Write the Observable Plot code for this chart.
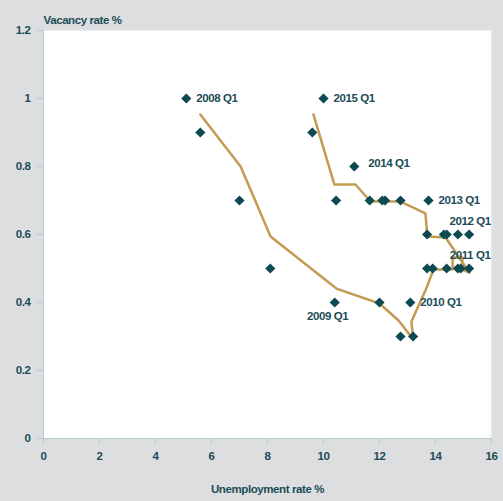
<!DOCTYPE html>
<html>
<head>
<meta charset="utf-8">
<script src="https://cdn.jsdelivr.net/npm/d3@7"></script>
<script src="https://cdn.jsdelivr.net/npm/@observablehq/plot@0.6"></script>
<style>
  html, body { margin: 0; padding: 0; background: #dcdee0; }
  #chart { width: 503px; height: 501px; }
  #chart svg text { letter-spacing: -0.4px; }
</style>
</head>
<body>
<div id="chart"></div>
<script>
// Quarterly observations (unemployment rate %, vacancy rate %)
const unemployment = [5.1, 5.6, 7.0, 8.1, 10.4, 12.0, 12.75, 13.2, 13.1,
  13.7, 13.9, 14.4, 14.8, 14.9, 15.2,
  13.7, 14.3, 14.4, 14.8, 15.2,
  13.75, 12.75, 12.2, 12.1, 11.65, 10.45, 11.1, 9.6, 10.0];
const vacancy = [1.0, 0.9, 0.7, 0.5, 0.4, 0.4, 0.3, 0.3, 0.4,
  0.5, 0.5, 0.5, 0.5, 0.5, 0.5,
  0.6, 0.6, 0.6, 0.6, 0.6,
  0.7, 0.7, 0.7, 0.7, 0.7, 0.7, 0.8, 0.9, 1.0];

// Trend line (moving average) vertices
const trendX = [5.6, 7.04, 8.11, 10.46, 12.0, 12.68, 13.21, 13.14, 13.64, 13.93,
  14.61, 14.61, 14.96, 14.96, 15.21, 14.36, 13.71, 13.64, 12.75, 11.68, 11.14, 10.39, 9.64];
const trendY = [0.953, 0.80, 0.594, 0.441, 0.397, 0.347, 0.291, 0.344, 0.435, 0.497,
  0.497, 0.532, 0.532, 0.497, 0.488, 0.591, 0.594, 0.662, 0.697, 0.697, 0.747, 0.747, 0.953];

// Quarter labels
const labelText = ["2008 Q1", "2009 Q1", "2010 Q1", "2011 Q1", "2012 Q1", "2013 Q1", "2014 Q1", "2015 Q1"];
const labelX = [5.1, 10.4, 13.1, 15.2, 15.2, 13.75, 11.1, 10.0];
const labelY = [1.0, 0.4, 0.4, 0.5, 0.6, 0.7, 0.8, 1.0];
const labelPlace = ["right", "below", "right", "above", "above", "right", "right2", "right"];

const xTicks = [0, 2, 4, 6, 8, 10, 12, 14, 16];
const yTicks = [0, 0.2, 0.4, 0.6, 0.8, 1.0, 1.2];

const points = unemployment.map((u, i) => ({u, v: vacancy[i]}));
const trend = trendX.map((x, i) => ({x, y: trendY[i]}));
const labels = labelText.map((t, i) => ({t, x: labelX[i], y: labelY[i], p: labelPlace[i]}));

const textColor = "#1c4c57";
const axisColor = "#b9c9d1";
const font = "'Liberation Sans', Arial, sans-serif";
const fs = 11.5;

const chart = Plot.plot({
  width: 503,
  height: 501,
  marginLeft: 43,
  marginRight: 12,
  marginTop: 30,
  marginBottom: 63,
  style: { background: "#dcdee0", fontFamily: font, fontSize: fs + "px", fontWeight: "bold", color: textColor },
  x: { domain: [0, 16] },
  y: { domain: [0, 1.2] },
  marks: [
    Plot.frame({ fill: "white", stroke: "none" }),
    Plot.ruleX([16], { stroke: "#e6eaec", strokeWidth: 1.5 }),
    Plot.axisX({ ticks: xTicks, tickFormat: d => String(d), tickSize: 6, tickPadding: 7,
      stroke: axisColor, fill: textColor, label: null, fontSize: fs }),
    Plot.axisY({ ticks: yTicks, tickFormat: d => String(d), tickSize: 6, tickPadding: 7,
      stroke: axisColor, fill: textColor, label: null, fontSize: fs }),
    Plot.ruleX([0], { stroke: axisColor, strokeWidth: 1 }),
    Plot.ruleY([0], { stroke: axisColor, strokeWidth: 1 }),
    Plot.line(trend, { x: "x", y: "y", stroke: "#c49b52", strokeWidth: 2.5, curve: "linear" }),
    Plot.dot(points, { x: "u", y: "v", symbol: "diamond2", r: 4.6, fill: "#0e4a52", stroke: "none" }),
    Plot.text(labels.filter(d => d.p === "right"), { x: "x", y: "y", text: "t", textAnchor: "start", dx: 10,
      fill: textColor, fontSize: fs, fontWeight: "bold" }),
    Plot.text(labels.filter(d => d.p === "right2"), { x: "x", y: "y", text: "t", textAnchor: "start", dx: 14, dy: -3,
      fill: textColor, fontSize: fs, fontWeight: "bold" }),
    Plot.text(labels.filter(d => d.p === "below"), { x: "x", y: "y", text: "t", textAnchor: "middle", dx: -7, dy: 14,
      fill: textColor, fontSize: fs, fontWeight: "bold" }),
    Plot.text(labels.filter(d => d.p === "above"), { x: "x", y: "y", text: "t", textAnchor: "middle", dx: 1, dy: -13,
      fill: textColor, fontSize: fs, fontWeight: "bold" }),
    Plot.text(["Vacancy rate %"], { frameAnchor: "top-left", textAnchor: "start", dx: 0, dy: -15,
      fill: textColor, fontSize: fs, fontWeight: "bold" }),
    Plot.text(["Unemployment rate %"], { frameAnchor: "bottom", dx: 0, dy: 54,
      fill: textColor, fontSize: fs, fontWeight: "bold" })
  ]
});
document.getElementById("chart").appendChild(chart);
</script>
</body>
</html>
